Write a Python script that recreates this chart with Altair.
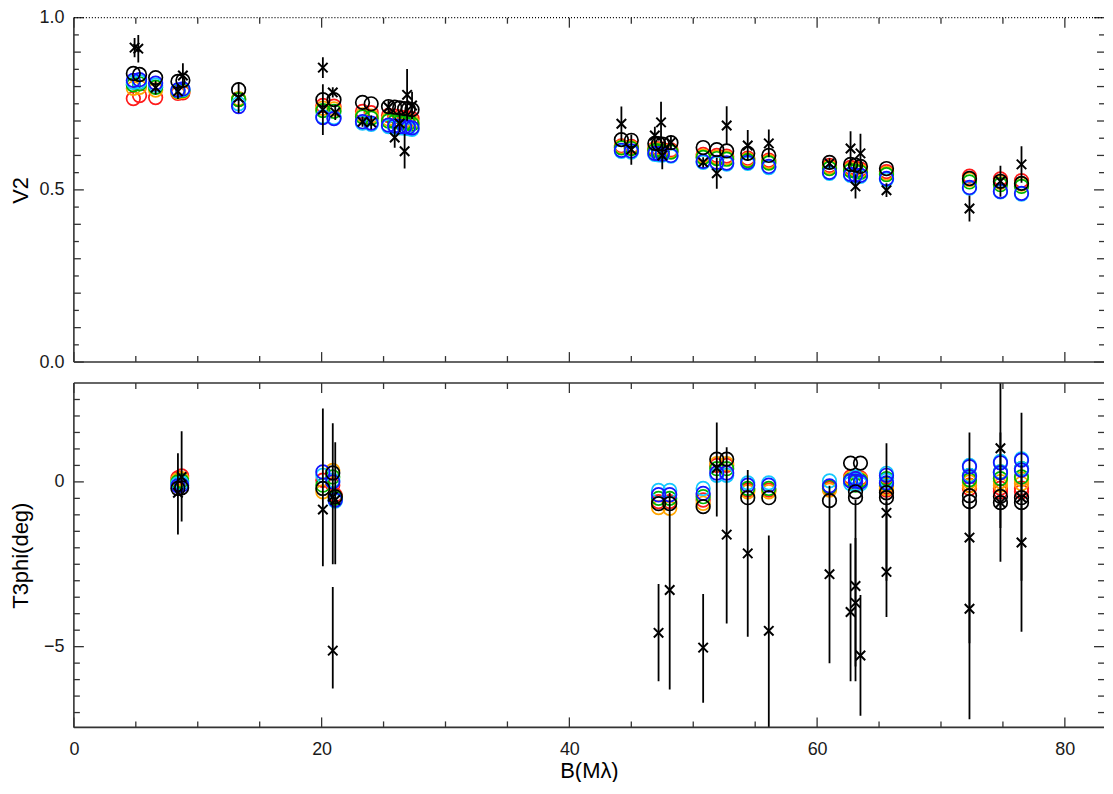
import altair as alt
import pandas as pd

# ---------------- data ----------------
MODELS = ["red", "orange", "green", "lightblue", "blue", "black"]
COLORS = ["#ff1a1a", "#ffa500", "#00b400", "#14c8ff", "#1414ff", "#000000"]

# V2 panel: model circles (one value per model colour)
v2_mod_B = [4.8, 5.3, 6.6, 8.4, 8.8, 13.3, 20.1, 21.0, 23.3, 24.0, 25.4, 25.9, 26.3, 26.7,
            27.0, 27.3, 44.2, 45.0, 46.9, 47.2, 47.5, 48.2, 50.8, 51.9, 52.7, 54.4, 56.1,
            61.0, 62.7, 63.1, 63.5, 65.6, 72.3, 74.8, 76.5]
v2_red = [.765, .774, .768, .780, .782, .762, .745, .743, .728, .724, .716, .714, .712, .710,
          .709, .707, .628, .626, .620, .619, .618, .616, .603, .600, .598, .592, .586,
          .571, .565, .563, .560, .553, .540, .532, .527]
v2_orange = [.795, .798, .790, .784, .786, .765, .737, .735, .718, .714, .706, .704, .702, .700,
             .699, .697, .625, .623, .617, .616, .615, .613, .598, .595, .593, .588, .582,
             .566, .560, .558, .555, .548, .530, .522, .517]
v2_green = [.805, .808, .798, .787, .789, .762, .730, .728, .712, .708, .700, .698, .696, .694,
            .693, .691, .622, .620, .614, .613, .612, .610, .594, .591, .589, .585, .578,
            .562, .556, .554, .551, .544, .523, .515, .510]
v2_lightblue = [.812, .814, .804, .789, .791, .750, .712, .710, .694, .690, .684, .682, .680, .679,
                .678, .676, .612, .610, .603, .602, .601, .598, .580, .577, .575, .577, .565,
                .548, .542, .540, .539, .530, .505, .494, .488]
v2_blue = [.818, .820, .810, .790, .793, .742, .710, .707, .698, .694, .688, .686, .684, .683,
           .682, .680, .615, .613, .606, .605, .604, .600, .583, .580, .578, .580, .568,
           .551, .545, .543, .542, .533, .507, .496, .490]
v2_black = [.838, .835, .826, .815, .818, .791, .762, .762, .754, .750, .742, .740, .738, .736,
            .735, .733, .646, .644, .635, .634, .633, .637, .623, .617, .613, .606, .600,
            .580, .574, .572, .568, .562, .533, .525, .519]

# V2 panel: measurements with error
v2_obs_B = [4.9, 5.2, 6.6, 8.4, 8.8, 13.3, 20.1, 20.1, 20.9, 21.1, 23.3, 24.0, 25.4, 25.9,
            26.3, 26.7, 26.9, 27.3, 44.2, 45.0, 46.9, 47.4, 47.5, 48.2, 50.8, 51.9, 52.7,
            54.4, 56.1, 61.0, 62.7, 63.1, 63.5, 65.6, 72.3, 74.8, 76.5]
v2_obs = [.913, .910, .797, .786, .832, .768, .855, .733, .783, .725, .698, .696, .740, .652,
          .693, .612, .776, .745, .692, .617, .658, .696, .600, .638, .580, .548, .687,
          .629, .635, .577, .620, .510, .606, .499, .446, .525, .574]
v2_err = [.028, .040, .020, .022, .036, .045, .030, .074, .015, .022, .015, .020, .020, .030,
          .025, .050, .075, .040, .050, .044, .025, .060, .040, .020, .015, .045, .056,
          .045, .040, .015, .050, .035, .057, .020, .038, .045, .053]

# T3phi panel: model circles
t3_mod_B = [8.4, 8.7, 20.1, 20.9, 21.1, 47.2, 48.1, 50.8, 51.9, 52.7, 54.4, 56.1, 61.0,
            62.7, 63.1, 63.1, 63.5, 65.6, 65.6, 72.3, 72.3, 74.8, 74.8, 76.5, 76.5]
t3_red = [0.12, 0.18, 0.05, -0.10, -0.40, -0.60, -0.60, -0.55, 0.50, 0.50, -0.25, -0.25, -0.20,
          0.15, 0.10, 0.00, 0.12, -0.15, -0.25, -0.10, -0.20, -0.19, -0.30, -0.19, -0.30]
t3_orange = [0.06, 0.10, -0.30, 0.35, -0.45, -0.78, -0.80, -0.65, 0.55, 0.55, -0.30, -0.30, -0.25,
             0.10, 0.05, -0.05, 0.08, -0.10, -0.20, 0.00, -0.12, 0.01, -0.10, 0.08, -0.05]
t3_green = [0.00, 0.03, -0.10, 0.15, -0.50, -0.50, -0.50, -0.45, 0.40, 0.40, -0.20, -0.20, -0.15,
            0.05, 0.00, -0.10, 0.04, 0.10, -0.05, 0.20, 0.06, 0.30, 0.10, 0.40, 0.15]
t3_lightblue = [-0.06, -0.04, 0.20, 0.05, -0.58, -0.26, -0.26, -0.20, 0.20, 0.20, -0.03, -0.03, 0.03,
                -0.05, 0.15, 0.05, -0.06, 0.26, 0.05, 0.50, 0.20, 0.62, 0.30, 0.70, 0.40]
t3_blue = [-0.12, -0.10, 0.30, 0.00, -0.55, -0.39, -0.39, -0.35, 0.27, 0.27, -0.10, -0.10, -0.12,
           0.03, 0.10, 0.02, 0.00, 0.20, -0.03, 0.46, 0.16, 0.58, 0.28, 0.66, 0.36]
t3_black = [-0.20, -0.18, -0.20, 0.27, -0.45, -0.66, -0.66, -0.75, 0.69, 0.69, -0.48, -0.48, -0.57,
            0.57, -0.30, -0.48, 0.57, -0.33, -0.48, -0.42, -0.60, -0.44, -0.63, -0.48, -0.63]

# T3phi panel: measurements with error range (clipped at the panel edges)
t3_obs_B = [8.4, 8.7, 20.1, 20.9, 21.1, 20.9, 47.2, 48.1, 50.8, 51.9, 52.7, 54.4, 56.1, 61.0,
            62.7, 63.1, 63.1, 63.5, 65.6, 65.6, 72.3, 72.3, 74.8, 74.8, 76.5, 76.5]
t3_obs = [-0.33, 0.15, -0.84, -0.45, -0.55, -5.12, -4.58, -3.28, -5.03, 0.42, -1.60, -2.17, -4.52,
          -2.80, -3.95, -3.16, -3.67, -5.27, -0.94, -2.73, -1.69, -3.85, 1.02, -0.63, -0.48, -1.84]
t3_lo = [-1.60, -1.20, -2.56, -2.50, -2.50, -6.27, -6.05, -6.30, -6.70, -1.05, -4.30, -4.70, -7.45,
         -5.50, -6.05, -6.05, -5.60, -7.10, -3.00, -4.10, -4.90, -7.20, -1.40, -2.42, -3.00, -4.55]
t3_hi = [0.87, 1.54, 2.23, 1.78, 1.20, -3.19, -3.10, -0.33, -3.40, 1.80, 1.05, 0.36, -1.63,
         -0.12, -1.87, -0.54, -1.70, -3.43, 1.17, -0.60, 1.50, -0.50, 3.00, 1.50, 2.10, 0.50]

# axis ticks (value list, tick length in px)
X_TICKS = [([0, 20, 40, 60, 80], 10),
           ([5, 10, 15, 25, 30, 35, 45, 50, 55, 65, 70, 75], 6)]
V2_LABELS = [0.0, 0.5, 1.0]
V2_TICKS = [([0.0, 0.5, 1.0], 10),
            ([0.1, 0.2, 0.3, 0.4, 0.6, 0.7, 0.8, 0.9], 7),
            ([0.05, 0.15, 0.25, 0.35, 0.45, 0.55, 0.65, 0.75, 0.85, 0.95], 5)]
T3_LABELS = [-5, 0]
T3_TICKS = [([-5, 0], 10),
            ([-7.0, -6.5, -6.0, -5.5, -4.5, -4.0, -3.5, -3.0, -2.5, -2.0, -1.5, -1.0, -0.5,
              0.5, 1.0, 1.5, 2.0, 2.5], 6)]

# ---------------- helpers ----------------
W, H = 1032, 345
XDOM = [0, 83.16]
AX = "#333333"
FONT = "Liberation Sans"


def long_models(B, cols):
    rows = []
    for i, b in enumerate(B):
        for k, (name, col) in enumerate(zip(MODELS, cols)):
            rows.append({"B": b, "val": col[i], "model": name, "k": k})
    return pd.DataFrame(rows)


def panel(mod_df, obs_df, ydom, ytitle, ylabels, yticks, yfmt, bottom, dotted_top):
    xs = alt.Scale(domain=XDOM, nice=False, zero=False)
    ys = alt.Scale(domain=ydom, nice=False, zero=False)
    if bottom:
        xaxis = alt.Axis(values=X_TICKS[0][0], format="d", ticks=False, domain=False, grid=False,
                         labelFontSize=18, labelPadding=13, labelFlush=False,
                         title="B(Mλ)", titleFontSize=22, titlePadding=2)
    else:
        xaxis = None
    yaxis = alt.Axis(values=ylabels, format=yfmt, ticks=False, domain=False, grid=False,
                     labelFontSize=18, labelPadding=10, labelFlush=False,
                     minExtent=35, maxExtent=35, title=ytitle,
                     titleFontSize=22, titlePadding=6)
    x_enc = alt.X("B:Q", scale=xs, axis=xaxis)
    y_enc = alt.Y("val:Q", scale=ys, axis=yaxis)

    one = pd.DataFrame({"a": [0]})
    layers = []

    circles = alt.Chart(mod_df).mark_point(shape="circle", filled=False, size=185,
                                           strokeWidth=1.7, opacity=1, clip=True).encode(
        x=x_enc, y=y_enc,
        color=alt.Color("model:N", scale=alt.Scale(domain=MODELS, range=COLORS), legend=None),
        order=alt.Order("k:Q"))
    layers.append(circles)

    bars = alt.Chart(obs_df).mark_rule(color="black", strokeWidth=1.8, clip=True).encode(
        x=x_enc, y=alt.Y("lo:Q", scale=ys, axis=yaxis), y2="hi:Q")
    layers.append(bars)

    xs_mark = alt.Chart(obs_df).mark_point(shape="M-1,-1L1,1M-1,1L1,-1", filled=False, size=90,
                                           color="black", strokeWidth=2, opacity=1, clip=True).encode(
        x=x_enc, y=y_enc)
    layers.append(xs_mark)

    # inward tick marks on all four sides
    for vals, L in X_TICKS:
        d = pd.DataFrame({"B": vals})
        layers.append(alt.Chart(d).mark_rule(color=AX, strokeWidth=1.3).encode(
            x=x_enc, y=alt.value(H - L), y2=alt.value(H)))
        layers.append(alt.Chart(d).mark_rule(color=AX, strokeWidth=1.3).encode(
            x=x_enc, y=alt.value(0), y2=alt.value(L)))
    for vals, L in yticks:
        d = pd.DataFrame({"val": vals})
        layers.append(alt.Chart(d).mark_rule(color=AX, strokeWidth=1.3).encode(
            y=y_enc, x=alt.value(0), x2=alt.value(L)))
        layers.append(alt.Chart(d).mark_rule(color=AX, strokeWidth=1.3).encode(
            y=y_enc, x=alt.value(W - L), x2=alt.value(W)))

    # frame (the right edge of the frame lies beyond the window in the reference)
    layers.append(alt.Chart(one).mark_rule(color=AX, strokeWidth=1.6).encode(
        x=alt.value(0), y=alt.value(0), y2=alt.value(H)))
    layers.append(alt.Chart(one).mark_rule(color=AX, strokeWidth=1.6).encode(
        y=alt.value(H), x=alt.value(0), x2=alt.value(W)))
    if dotted_top:
        layers.append(alt.Chart(one).mark_rule(color="black", strokeWidth=1.2,
                                               strokeDash=[1, 2]).encode(
            y=alt.value(0), x=alt.value(0), x2=alt.value(W)))
    else:
        layers.append(alt.Chart(one).mark_rule(color=AX, strokeWidth=1.6).encode(
            y=alt.value(0), x=alt.value(0), x2=alt.value(W)))

    return alt.layer(*layers).properties(width=W, height=H)


v2_models = long_models(v2_mod_B, [v2_red, v2_orange, v2_green, v2_lightblue, v2_blue, v2_black])
v2_obs_df = pd.DataFrame({"B": v2_obs_B, "val": v2_obs,
                          "lo": [v - e for v, e in zip(v2_obs, v2_err)],
                          "hi": [v + e for v, e in zip(v2_obs, v2_err)]})
t3_models = long_models(t3_mod_B, [t3_red, t3_orange, t3_green, t3_lightblue, t3_blue, t3_black])
t3_obs_df = pd.DataFrame({"B": t3_obs_B, "val": t3_obs, "lo": t3_lo, "hi": t3_hi})

top = panel(v2_models, v2_obs_df, [0, 1], "V2", V2_LABELS, V2_TICKS, ".1f", False, True)
bottom = panel(t3_models, t3_obs_df, [-7.45, 3.0], "T3phi(deg)", T3_LABELS, T3_TICKS, "d", True, False)

chart = alt.vconcat(top, bottom, spacing=11).properties(
    padding={"left": 2, "top": 0, "right": 0, "bottom": 0}
).configure_view(stroke=None).configure_axis(
    labelFont=FONT, titleFont=FONT, labelColor="#1a1a1a", titleColor="#000000",
    titleFontWeight="normal"
)

chart.save("out.html", embed_options={"renderer": "svg", "actions": False})
